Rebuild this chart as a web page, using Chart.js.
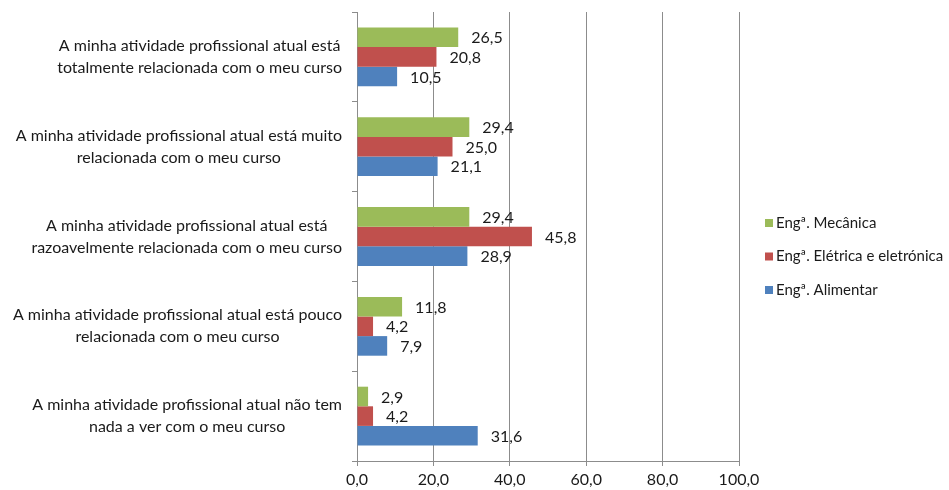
<!DOCTYPE html>
<html>
<head>
<meta charset="utf-8">
<script src="https://cdn.jsdelivr.net/npm/chart.js@4"></script>
<style>
  html, body { margin: 0; padding: 0; background: #fff; }
  #wrap { width: 949px; height: 490px; }
</style>
</head>
<body>
<div id="wrap"><canvas id="chart" width="949" height="490"></canvas></div>
<script>
// categorias (cada uma em duas linhas, como no original)
const categorias = [
  ['A minha atividade profissional atual está', 'totalmente relacionada com o meu curso'],
  ['A minha atividade profissional atual está muito', 'relacionada com o meu curso'],
  ['A minha atividade profissional atual está', 'razoavelmente relacionada com o meu curso'],
  ['A minha atividade profissional atual está pouco', 'relacionada com o meu curso'],
  ['A minha atividade profissional atual não tem', 'nada a ver com o meu curso']
];
const series = ['Engª. Mecânica', 'Engª. Elétrica e eletrónica', 'Engª. Alimentar'];
const mecanica = [26.5, 29.4, 29.4, 11.8, 2.9];
const eletrica = [20.8, 25.0, 45.8, 4.2, 4.2];
const alimentar = [10.5, 21.1, 28.9, 7.9, 31.6];
const cores = ['#9BBB59', '#C0504D', '#4F81BD'];
const xTicks = [0, 20, 40, 60, 80, 100];

const FONTE = 'Lato, "Open Sans", sans-serif';
const virgula = v => v.toFixed(1).replace('.', ',');

// rótulos dos valores à direita das barras
const rotulosValores = {
  id: 'rotulosValores',
  afterDatasetsDraw(chart) {
    const ctx = chart.ctx;
    ctx.save();
    ctx.font = '16px ' + FONTE;
    ctx.fillStyle = '#1a1a1a';
    ctx.textAlign = 'left';
    ctx.textBaseline = 'middle';
    chart.data.datasets.forEach((ds, i) => {
      chart.getDatasetMeta(i).data.forEach((bar, j) => {
        ctx.fillText(virgula(ds.data[j]), bar.x + 13, bar.y + 1);
      });
    });
    ctx.restore();
  }
};

// rótulos das categorias: linhas centradas dentro do bloco, bloco alinhado à direita
const rotulosCategorias = {
  id: 'rotulosCategorias',
  afterDraw(chart) {
    const ctx = chart.ctx;
    const y = chart.scales.y;
    ctx.save();
    ctx.font = '16px ' + FONTE;
    ctx.fillStyle = '#1a1a1a';
    ctx.textAlign = 'center';
    ctx.textBaseline = 'middle';
    categorias.forEach((linhas, i) => {
      const w = Math.max(...linhas.map(l => ctx.measureText(l).width));
      const cx = y.right - 15 - w / 2;
      const cy = y.getPixelForTick(i);
      const lh = 22;
      linhas.forEach((l, k) => {
        ctx.fillText(l, cx, cy + (k - (linhas.length - 1) / 2) * lh);
      });
    });
    ctx.restore();
  }
};

// legenda à direita
const legenda = {
  id: 'legenda',
  afterDraw(chart) {
    const ctx = chart.ctx;
    const x0 = chart.chartArea.right + 26;
    ctx.save();
    ctx.font = '15px ' + FONTE;
    ctx.textBaseline = 'middle';
    ctx.textAlign = 'left';
    series.forEach((nome, i) => {
      const cy = 223 + i * 33.5;
      ctx.fillStyle = cores[i];
      ctx.fillRect(x0, cy - 4, 8, 8);
      ctx.fillStyle = '#1a1a1a';
      ctx.fillText(nome, x0 + 11, cy);
    });
    ctx.restore();
  }
};

const dados = [mecanica, eletrica, alimentar];

new Chart(document.getElementById('chart'), {
  type: 'bar',
  data: {
    labels: categorias,
    datasets: series.map((nome, i) => ({
      label: nome,
      data: dados[i],
      backgroundColor: cores[i],
      categoryPercentage: 0.655,
      barPercentage: 1.0
    }))
  },
  options: {
    indexAxis: 'y',
    responsive: false,
    animation: false,
    layout: { padding: { top: 12, right: 210, left: 0, bottom: 0 } },
    plugins: {
      legend: { display: false },
      tooltip: { enabled: false }
    },
    scales: {
      x: {
        min: 0,
        max: 100,
        afterBuildTicks: s => { s.ticks = xTicks.map(v => ({ value: v })); },
        afterFit: s => { s.height = 29; },
        ticks: {
          callback: v => virgula(v),
          color: '#1a1a1a',
          font: { family: FONTE, size: 16 },
          padding: 4,
          maxRotation: 0
        },
        grid: { color: '#8c8c8c', lineWidth: 1, tickLength: 5, drawTicks: true },
        border: { color: '#8c8c8c', width: 1 }
      },
      y: {
        afterFit: s => { s.width = 357; },
        ticks: { display: false },
        grid: { offset: true, drawOnChartArea: false, drawTicks: true, tickLength: 5, color: '#8c8c8c' },
        border: { color: '#8c8c8c', width: 1 }
      }
    }
  },
  plugins: [rotulosValores, rotulosCategorias, legenda]
});
</script>
</body>
</html>
